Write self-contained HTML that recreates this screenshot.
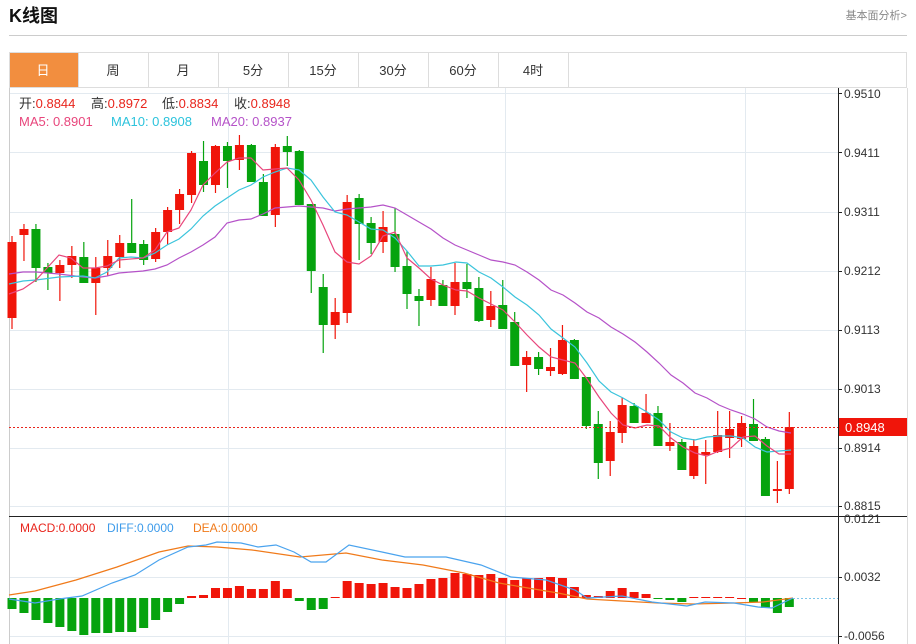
<!DOCTYPE html>
<html><head><meta charset="utf-8"><style>
body{margin:0;width:916px;height:644px;background:#fff;overflow:hidden;font-family:"Liberation Sans","Noto Sans CJK SC",sans-serif;}
svg{position:absolute;left:0;top:0}
</style></head><body>
<svg id="s" width="916" height="644" xmlns="http://www.w3.org/2000/svg" font-family="Liberation Sans, Noto Sans CJK SC, sans-serif">
<text x="9" y="22" font-size="18" font-weight="bold" fill="#111">K线图</text>
<text x="907" y="19" font-size="11" fill="#888" text-anchor="end">基本面分析&gt;</text>
<line x1="9" y1="35.5" x2="907" y2="35.5" stroke="#ccc"/>
<rect x="9.5" y="52.5" width="897" height="35" fill="#fff" stroke="#ddd"/>
<rect x="10" y="53" width="68" height="34" fill="#f28e3f"/>
<g stroke="#ddd"><line x1="78.5" y1="52" x2="78.5" y2="88"/><line x1="148.5" y1="52" x2="148.5" y2="88"/><line x1="218.5" y1="52" x2="218.5" y2="88"/><line x1="288.5" y1="52" x2="288.5" y2="88"/><line x1="358.5" y1="52" x2="358.5" y2="88"/><line x1="428.5" y1="52" x2="428.5" y2="88"/><line x1="498.5" y1="52" x2="498.5" y2="88"/><line x1="568.5" y1="52" x2="568.5" y2="88"/></g>
<g font-size="13" text-anchor="middle" fill="#333"><text x="43" y="75" fill="#fff">日</text><text x="113" y="75">周</text><text x="183" y="75">月</text><text x="253" y="75">5分</text><text x="323" y="75">15分</text><text x="393" y="75">30分</text><text x="463" y="75">60分</text><text x="533" y="75">4时</text></g>
<line x1="9.5" y1="88" x2="9.5" y2="644" stroke="#ccc"/>
<line x1="907.5" y1="88" x2="907.5" y2="644" stroke="#ddd"/>
<g id="grid" stroke="#e3eaf0"></g>
<g id="plot"></g>
<line x1="9" y1="516.5" x2="907" y2="516.5" stroke="#222"/>
<line x1="838.5" y1="88" x2="838.5" y2="644" stroke="#222"/>
<g stroke="#222"><line x1="838" y1="93.5" x2="842" y2="93.5"/><line x1="838" y1="152.5" x2="842" y2="152.5"/><line x1="838" y1="212.5" x2="842" y2="212.5"/><line x1="838" y1="271.5" x2="842" y2="271.5"/><line x1="838" y1="330.5" x2="842" y2="330.5"/><line x1="838" y1="389.5" x2="842" y2="389.5"/><line x1="838" y1="448.5" x2="842" y2="448.5"/><line x1="838" y1="506.5" x2="842" y2="506.5"/><line x1="838" y1="577.5" x2="842" y2="577.5"/><line x1="838" y1="636.5" x2="842" y2="636.5"/></g>
<g font-size="12" fill="#333" id="ticks">
<text x="844" y="98">0.9510</text><text x="844" y="157">0.9411</text><text x="844" y="216">0.9311</text><text x="844" y="275">0.9212</text><text x="844" y="334">0.9113</text><text x="844" y="393">0.9013</text><text x="844" y="452">0.8914</text><text x="844" y="510">0.8815</text>
<text x="844" y="523">0.0121</text><text x="844" y="581">0.0032</text><text x="844" y="640">-0.0056</text>
</g>
<line x1="9" y1="427.5" x2="838" y2="427.5" stroke="#e8251c" stroke-dasharray="2,2"/>
<rect x="839" y="418" width="68" height="18" fill="#f0150a"/>
<text x="845" y="432" font-size="13" fill="#fff">0.8948</text>
<g font-size="13">
<text y="108" fill="#333"><tspan x="19">开:</tspan><tspan fill="#e8251c">0.8844</tspan><tspan x="91">高:</tspan><tspan fill="#e8251c">0.8972</tspan><tspan x="162">低:</tspan><tspan fill="#e8251c">0.8834</tspan><tspan x="234">收:</tspan><tspan fill="#e8251c">0.8948</tspan></text>
<text y="126"><tspan x="19" fill="#e8467c">MA5: 0.8901</tspan><tspan x="111" fill="#2cc3dc">MA10: 0.8908</tspan><tspan x="211" fill="#b552c8">MA20: 0.8937</tspan></text>
<text y="532" font-size="12"><tspan x="20" fill="#e8251c">MACD:0.0000</tspan><tspan x="107" fill="#3d9bea">DIFF:0.0000</tspan><tspan x="193" fill="#f07a1a">DEA:0.0000</tspan></text>
</g>
</svg>
<script>
var NS="http://www.w3.org/2000/svg";
function el(p,t,a){var e=document.createElementNS(NS,t);for(var k in a)e.setAttribute(k,a[k]);p.appendChild(e);return e;}
var g=document.getElementById('grid'),p=document.getElementById('plot');
[93,152,212,271,330,389,448,506,577,636].forEach(function(y){el(g,'line',{x1:10,y1:y+.5,x2:838,y2:y+.5});});
[228,505,745].forEach(function(x){el(g,'line',{x1:x+.5,y1:88,x2:x+.5,y2:644});});
var C=[["r",242,318,236,329],["r",229,235,224,261],["g",229,268,224,282],["g",267,273,263,290],["r",265,273,260,301],["r",256,265,246,278],["g",257,283,242,283],["r",268,283,257,315],["r",256,268,240,276],["r",243,257,235,268],["g",243,253,199,253],["g",244,260,240,265],["r",232,259,228,262],["r",210,232,207,245],["r",194,210,189,224],["r",153,195,151,203],["g",161,185,141,192],["r",146,185,145,193],["g",146,161,142,188],["r",145,160,135,170],["g",145,182,144,182],["g",182,216,174,216],["r",147,215,144,227],["g",146,152,136,166],["g",151,205,150,205],["g",204,271,204,293],["g",287,325,274,353],["r",312,325,298,339],["r",202,313,195,323],["g",198,224,194,260],["g",223,243,217,254],["r",227,242,211,253],["g",234,267,208,272],["g",266,294,251,309],["g",296,301,289,326],["r",279,300,267,306],["g",285,306,280,306],["r",282,306,263,315],["g",282,289,264,298],["g",288,321,277,322],["r",306,320,291,327],["g",305,329,280,329],["g",322,366,312,366],["r",357,365,351,392],["g",357,369,352,375],["r",367,371,348,376],["r",340,374,325,375],["g",340,379,339,379],["g",377,426,377,429],["g",424,463,411,479],["r",432,461,421,476],["r",405,433,398,443],["g",406,423,403,423],["r",413,423,394,423],["g",413,446,406,446],["r",442,446,423,451],["g",442,470,439,470],["r",446,476,439,479],["r",452,455,440,484],["r",435,452,411,453],["r",429,438,411,458],["r",423,439,416,447],["g",424,441,399,441],["g",439,496,437,496],["r",489,491,461,503],["r",427,489,412,494]];
var M=[11,15,22,25,29,33,37,35,35,34,34,30,22,14,6,-2,-3,-10,-10,-12,-9,-9,-17,-9,3,12,11,-1,-17,-15,-14,-15,-11,-10,-14,-19,-20,-25,-24,-23,-24,-20,-18,-20,-20,-21,-20,-11,-3,-2,-7,-10,-6,-4,1,2,4,-1,-1,-1,-1,0,4,10,15,9];
function X(i){return i<37?12+i*11.97:455+(i-37)*11.94;}
C.forEach(function(c,i){var x=X(i),col=c[0]=="r"?"#f0150a":"#06a30e";
el(p,'line',{x1:x,y1:c[3],x2:x,y2:c[4],stroke:col,'stroke-width':1.2});
el(p,'rect',{x:x-4.5,y:c[1],width:9,height:Math.max(1.5,c[2]-c[1]),fill:col});});
M.forEach(function(m,i){var x=X(i),col=m>0?"#06a30e":"#f0150a";var y0=598;
el(p,'rect',{x:x-4.5,y:m>0?y0:y0+m,width:9,height:Math.max(1,Math.abs(m)),fill:col});});
el(p,'line',{x1:793,y1:598.5,x2:838,y2:598.5,stroke:"#7fc6ea","stroke-dasharray":"2,2"});
function pl(pts,col){el(p,'polyline',{points:pts,fill:'none',stroke:col,'stroke-width':1.2});}
pl("9,274 23,272 36,272 59,274 83,277 95,278 107,276 119,273 131,272 143,271 155,269 167,265 179,258 191,252 203,245 215,237 227,223 239,220 251,219 263,214 275,208 287,207 299,206 311,207 323,208 335,211 347,209 359,208 371,207 383,205 395,208 407,215 419,222 431,229 443,238 455,245 467,250 479,255 491,260 503,262 515,265 527,272 539,280 551,290 563,295 575,303 587,312 599,318 611,327 623,334 635,342 647,352 659,363 671,375 683,383 695,393 707,398 719,405 731,410 743,414 755,419 767,427 779,431 791,433","#b552c8");
pl("9,284 23,281 36,280 59,277 83,276 95,278 107,272 119,258 131,257 143,258 155,253 167,245 179,239 191,229 203,216 215,206 227,198 239,190 251,185 263,177 275,172 287,168 299,170 311,180 323,197 335,212 347,215 359,222 371,229 383,230 395,238 407,251 419,266 431,266 443,265 456,262 467,263 479,272 491,278 503,287 515,297 527,305 539,315 551,329 563,338 575,347 587,363 599,381 611,392 623,398 635,405 647,412 659,420 671,432 683,438 695,440 707,437 719,436 731,436 743,438 755,447 767,452 779,451 791,450","#3bc4dc");
pl("9,294 23,289 36,280 59,255 71,258 83,268 95,268 107,266 119,260 143,258 155,250 167,232 179,228 191,210 203,185 215,173 227,162 239,158 251,158 263,170 275,169 287,168 299,180 311,200 323,225 335,252 347,262 359,264 371,256 383,236 395,232 407,258 419,268 431,279 443,285 456,290 467,291 479,298 491,304 503,310 515,322 527,335 539,347 551,357 563,360 575,363 587,379 599,397 611,413 623,425 635,428 647,425 659,426 671,438 683,447 695,453 707,456 719,451 731,448 743,437 755,436 767,446 779,454 791,454","#e8467c");
pl("9,595 35,591 76,580 117,567 159,552 188,546 217,547 252,550 300,557 346,553 382,560 423,565 464,573 499,583 528,588 558,593 587,599 622,601 658,603 693,604 734,603 763,602 793,598","#f07a1a");
pl("9,599 35,603 59,599 82,596 112,583 135,575 159,560 188,547 206,545 217,542 241,543 258,547 276,545 294,552 311,562 326,562 349,545 382,552 405,557 446,557 481,565 511,577 546,580 575,590 587,598 622,596 652,602 687,606 705,602 734,603 758,607 772,608 793,598","#4aa3ee");
</script>
</body></html>
